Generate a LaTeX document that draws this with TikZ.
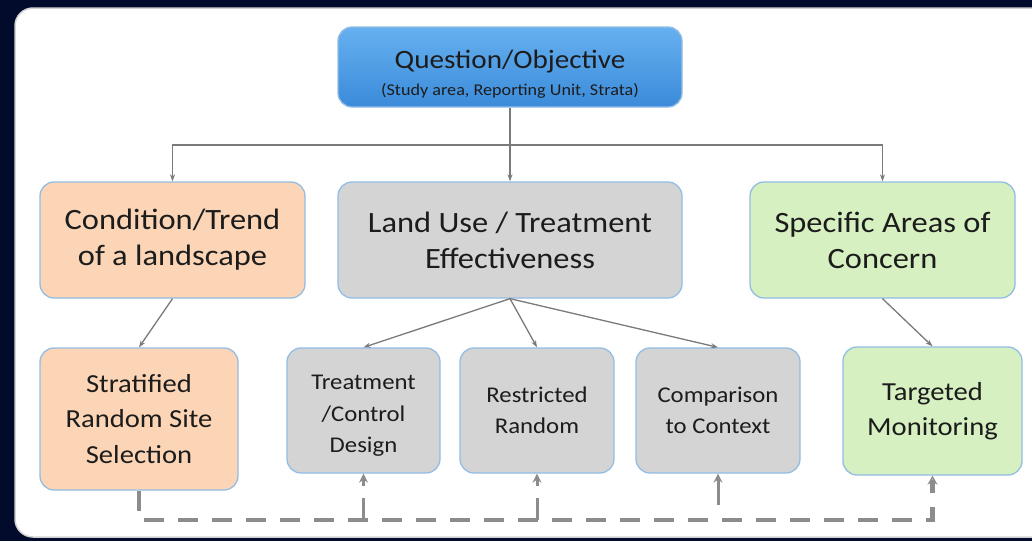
\documentclass[tikz,border=0pt]{standalone}
\usepackage{fontspec}
\setmainfont{Carlito}[FakeStretch=1.1]
\usetikzlibrary{arrows.meta}
\definecolor{bgnavy}{HTML}{020B2C}
\definecolor{edgeblue}{HTML}{93BDE4}
\definecolor{peach}{HTML}{FBD5B6}
\definecolor{boxgray}{HTML}{D4D4D4}
\definecolor{boxgreen}{HTML}{D6F0C1}
\definecolor{qtop}{HTML}{66B0F0}
\definecolor{qbot}{HTML}{3B8BDA}
\definecolor{conncol}{HTML}{7A7A7A}
\definecolor{dashcol}{HTML}{8C8C8C}
\definecolor{txt}{HTML}{1C1C1C}
\tikzset{
  box/.style={draw=edgeblue, line width=1.3pt, rounded corners=14pt, align=center, text=txt, inner sep=2pt},
  bigtext/.style={font=\fontsize{29.5}{36}\selectfont},
  midtext/.style={font=\fontsize{26}{35.5}\selectfont},
  smalltext/.style={font=\fontsize{22.5}{31.5}\selectfont},
  conn/.style={draw=conncol, line width=1.3pt},
  tip/.style={-{Stealth[length=7pt,width=5pt]}},
  dashline/.style={draw=dashcol, line width=4.5pt, dash pattern=on 20pt off 14pt},
  uparrow/.style={draw=dashcol, line width=3pt, dash pattern=on 22pt off 12pt, -{Stealth[length=9pt,width=9pt]}}
}
\begin{document}
\begin{tikzpicture}[x=1pt,y=-1pt]
\useasboundingbox (0,0) rectangle (1032,541);
\fill[bgnavy] (0,0) rectangle (1032,541);
\fill[white, draw=gray!35, line width=1.5pt, rounded corners=18pt] (15,8) rectangle (1060,537);

% top box
\node[box, top color=qtop, bottom color=qbot, minimum width=344pt, minimum height=80pt] (q) at (510,67) {};
\node[text=txt, anchor=base, font=\fontsize{26.5}{30}\selectfont] (qt) at (510,68) {Question/Objective};
\node[text=txt, anchor=base, font=\fontsize{16.5}{18}\selectfont] (qs) at (510,95) {(Study area, Reporting Unit, Strata)};

% second row
\node[box, fill=peach, bigtext, minimum width=265pt, minimum height=116pt] (cond) at (172.5,240) {Condition/Trend\\of a landscape};
\node[box, fill=boxgray, bigtext, minimum width=344pt, minimum height=116pt] (land) at (510,240) {Land Use / Treatment\\Effectiveness};
\node[box, fill=boxgreen, bigtext, minimum width=265pt, minimum height=116pt] (spec) at (882.5,240) {Specific Areas of\\Concern};

% third row
\node[box, fill=peach, midtext, minimum width=198pt, minimum height=142pt] (strat) at (139,419) {Stratified\\Random Site\\Selection};
\node[box, fill=boxgray, minimum width=153pt, minimum height=125pt] (treat) at (363.5,410.5) {};
\node[text=txt, smalltext, align=center] (treatt) at (363.5,416) {Treatment\\/Control\\Design};
\node[box, fill=boxgray, smalltext, minimum width=154pt, minimum height=125pt] (restr) at (537,410.5) {Restricted\\Random};
\node[box, fill=boxgray, smalltext, minimum width=164pt, minimum height=125pt] (comp) at (718,410.5) {Comparison\\to Context};
\node[box, fill=boxgreen, midtext, minimum width=179pt, minimum height=128pt] (targ) at (932.5,411) {Targeted\\Monitoring};

% top connectors
\coordinate (j) at (510,145);
\draw[conn] (q.south) -- (j);
\draw[conn, tip] (j) -- (land.north);
\draw[conn, tip] (j) -| (cond.north);
\draw[conn, tip] (j) -| (spec.north);

% lower connectors
\draw[conn, tip] (cond.south) -- (strat.north);
\draw[conn, tip] (land.south) -- (treat.north);
\draw[conn, tip] (land.south) -- (restr.north);
\draw[conn, tip] (land.south) -- (comp.north);
\draw[conn, tip] (spec.south) -- (targ.north);

% dashed feedback
\coordinate (dl) at (139,520);
\coordinate (dr) at (932.5,520);
\coordinate (dt) at (363.5,520);
\coordinate (dm) at (537,520);
\coordinate (dc) at (718,505);
\draw[dashline, -{Stealth[length=9pt,width=10pt,open]}] (strat.south) -- (dl) -- (dr) -- (targ.south);
\draw[uparrow] (dt) -- (treat.south);
\draw[uparrow] (dm) -- (restr.south);
\draw[draw=dashcol, line width=3pt, -{Stealth[length=9pt,width=9pt]}] (dc) -- (comp.south);
\end{tikzpicture}
\end{document}
